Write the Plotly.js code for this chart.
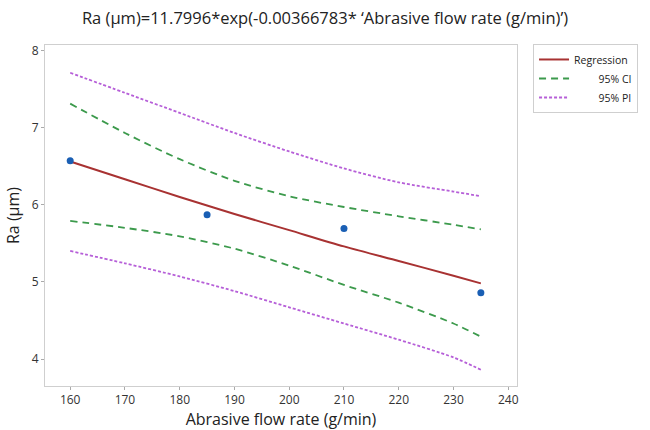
<!DOCTYPE html>
<html>
<head>
<meta charset="utf-8">
<script src="https://cdn.plot.ly/plotly-3.0.1.min.js"></script>
<style>html,body{margin:0;padding:0;background:#fff}#chart{width:650px;height:430px}</style>
</head>
<body>
<div id="chart"></div>
<script>
// Observed data
var flowRate = [160, 185, 210, 235];
var raObserved = [6.57, 5.87, 5.69, 4.86];

// Fitted curve and bands
var fitX = [160, 170, 180, 190, 200, 210, 220, 230, 235];
var regression = [6.56, 6.33, 6.10, 5.88, 5.67, 5.46, 5.27, 5.08, 4.98];
var ciUpper = [7.31, 6.93, 6.59, 6.31, 6.11, 5.97, 5.85, 5.74, 5.68];
var ciLower = [5.79, 5.70, 5.59, 5.43, 5.21, 4.96, 4.73, 4.46, 4.29];
var piUpper = [7.71, 7.45, 7.19, 6.93, 6.69, 6.47, 6.29, 6.17, 6.11];
var piLower = [5.40, 5.24, 5.07, 4.88, 4.67, 4.46, 4.25, 4.02, 3.86];

var xTicks = [160, 170, 180, 190, 200, 210, 220, 230, 240];
var yTicks = [4, 5, 6, 7, 8];

var nb = '\u00a0';
var traces = [
  {x: fitX, y: regression, mode: 'lines', name: 'Regression',
   line: {color: '#a83232', width: 2, shape: 'spline', smoothing: 0.8}},
  {x: fitX, y: ciUpper, mode: 'lines', name: nb.repeat(9) + '95% CI', legendgroup: 'ci',
   line: {color: '#3c9a4c', width: 1.8, dash: '7px,5px', shape: 'spline', smoothing: 0.8}},
  {x: fitX, y: ciLower, mode: 'lines', name: '95% CI', legendgroup: 'ci', showlegend: false,
   line: {color: '#3c9a4c', width: 1.8, dash: '7px,5px', shape: 'spline', smoothing: 0.8}},
  {x: fitX, y: piUpper, mode: 'lines', name: nb.repeat(9) + '95% PI', legendgroup: 'pi',
   line: {color: '#b65fd8', width: 1.8, dash: '3px,2px', shape: 'spline', smoothing: 0.8}},
  {x: fitX, y: piLower, mode: 'lines', name: '95% PI', legendgroup: 'pi', showlegend: false,
   line: {color: '#b65fd8', width: 1.8, dash: '3px,2px', shape: 'spline', smoothing: 0.8}},
  {x: flowRate, y: raObserved, mode: 'markers', name: 'Data', showlegend: false,
   marker: {color: '#1a5fb4', size: 7}}
];

var layout = {
  width: 650, height: 430,
  margin: {l: 45, r: 133, t: 45, b: 44},
  paper_bgcolor: '#fff', plot_bgcolor: '#fff',
  font: {family: 'Open Sans, Noto Sans, sans-serif', color: '#333'},
  title: {text: 'Ra (μm)=11.7996*exp(-0.00366783* ‘Abrasive flow rate (g/min)’)',
          x: 0.5, xref: 'container', y: 0.958, yref: 'container', yanchor: 'middle',
          font: {size: 16.5, color: '#222'}},
  xaxis: {range: [155.4, 241.6], tickvals: xTicks, ticktext: xTicks.map(String),
          showgrid: false, zeroline: false, showline: true, mirror: true,
          linecolor: '#cfcfcf', linewidth: 1, ticks: 'outside', ticklen: 3,
          tickcolor: '#aaa', tickfont: {size: 12, color: '#333'},
          title: {text: 'Abrasive flow rate (g/min)', standoff: 5,
                  font: {size: 16, color: '#222'}}},
  yaxis: {range: [3.65, 8.07], tickvals: yTicks, ticktext: yTicks.map(String),
          showgrid: false, zeroline: false, showline: true, mirror: true,
          linecolor: '#cfcfcf', linewidth: 1, ticks: 'outside', ticklen: 3,
          tickcolor: '#aaa', tickfont: {size: 12, color: '#333'},
          title: {text: 'Ra (μm)', standoff: 8, font: {size: 16, color: '#222'}}},
  legend: {x: 1.034, xanchor: 'left', y: 1.003, yanchor: 'top',
           bordercolor: '#cfcfcf', borderwidth: 1, bgcolor: '#fff',
           font: {size: 10.5, color: '#222'}, tracegroupgap: 0, itemwidth: 30}
};

Plotly.newPlot('chart', traces, layout, {displayModeBar: false, staticPlot: true});
</script>
</body>
</html>
